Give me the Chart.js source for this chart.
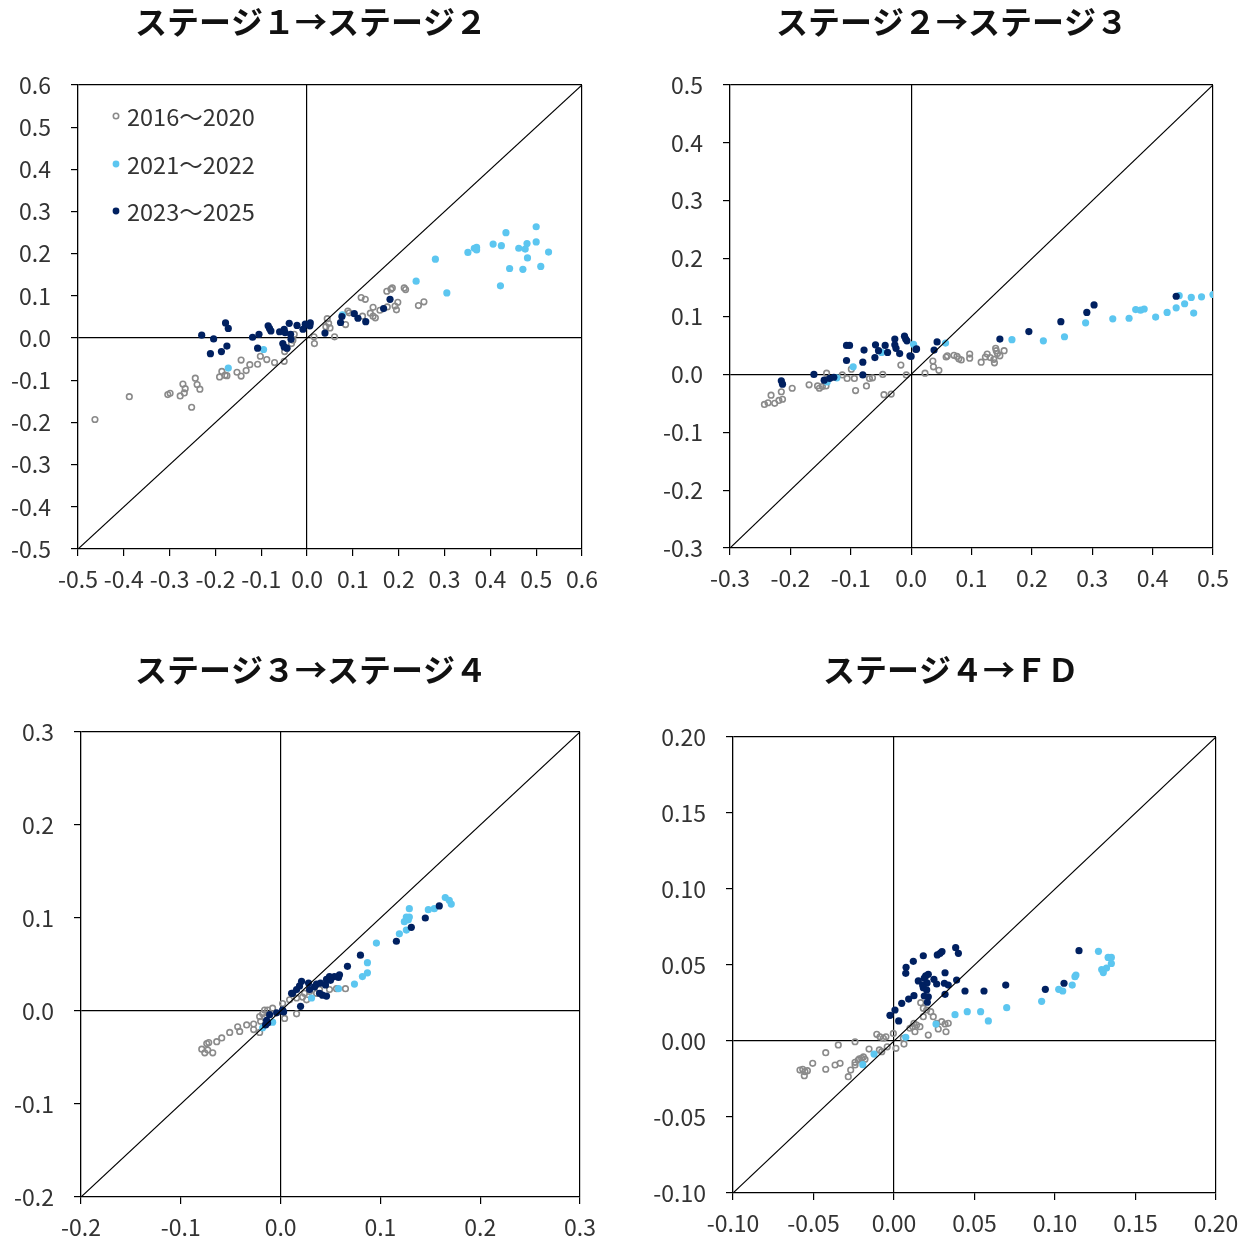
<!DOCTYPE html>
<html><head><meta charset="utf-8">
<script src="https://cdn.jsdelivr.net/npm/chart.js@4.4.1/dist/chart.umd.min.js"></script>
<style>
html,body{margin:0;padding:0;background:#fff;}
body{width:1251px;height:1240px;position:relative;overflow:hidden;}
canvas{position:absolute;}
</style></head><body>
<canvas id="c1" width="625" height="620" style="left:0px;top:0px"></canvas>
<canvas id="c2" width="598" height="620" style="left:653px;top:0px"></canvas>
<canvas id="c3" width="625" height="620" style="left:0px;top:620px"></canvas>
<canvas id="c4" width="600" height="620" style="left:651px;top:620px"></canvas>
<script>
// ---------- DATA ----------
const chartTitles = ['ステージ１→ステージ２', 'ステージ２→ステージ３', 'ステージ３→ステージ４', 'ステージ４→ＦＤ'];
const seriesLabels = ['2016～2020', '2021～2022', '2023～2025'];
// axis [min, max, step, decimals]
const axis1 = [-0.5, 0.6, 0.1, 1];
const axis2 = [-0.3, 0.5, 0.1, 1];
const axis3 = [-0.2, 0.3, 0.1, 1];
const axis4 = [-0.10, 0.20, 0.05, 2];

// Chart 1: ステージ1→ステージ2
const c1Gray = [[-0.463,-0.193],[-0.388,-0.139],[-0.304,-0.134],[-0.299,-0.131],[-0.277,-0.137],[-0.271,-0.109],[-0.266,-0.120],[-0.268,-0.130],[-0.252,-0.164],[-0.244,-0.095],[-0.240,-0.110],[-0.234,-0.121],[-0.191,-0.092],[-0.186,-0.079],[-0.179,-0.088],[-0.175,-0.089],[-0.153,-0.081],[-0.144,-0.090],[-0.144,-0.052],[-0.133,-0.077],[-0.125,-0.063],[-0.108,-0.062],[-0.102,-0.043],[-0.088,-0.051],[-0.071,-0.058],[-0.050,-0.055],[-0.049,-0.032],[-0.044,-0.024],[-0.034,-0.013],[-0.031,-0.005],[-0.028,0.009],[0.015,0.003],[0.016,-0.013],[0.044,0.046],[0.047,0.035],[0.041,0.027],[0.050,0.024],[0.060,0.003],[0.084,0.032],[0.089,0.064],[0.092,0.060],[0.118,0.096],[0.127,0.092],[0.121,0.052],[0.138,0.059],[0.144,0.052],[0.149,0.048],[0.144,0.073],[0.159,0.066],[0.174,0.111],[0.183,0.116],[0.186,0.119],[0.175,0.074],[0.192,0.076],[0.198,0.085],[0.195,0.067],[0.212,0.119],[0.215,0.115],[0.243,0.077],[0.255,0.086]];
const c1Light = [[0.500,0.264],[0.434,0.250],[0.406,0.223],[0.424,0.219],[0.365,0.213],[0.370,0.215],[0.370,0.209],[0.351,0.203],[0.462,0.213],[0.480,0.224],[0.476,0.211],[0.500,0.228],[0.527,0.204],[0.481,0.190],[0.442,0.165],[0.471,0.163],[0.510,0.170],[0.422,0.124],[0.280,0.187],[0.238,0.135],[0.305,0.107],[0.077,0.055],[-0.095,-0.027],[-0.172,-0.071]];
const c1Navy = [[0.181,0.092],[0.167,0.070],[0.103,0.058],[0.111,0.047],[0.128,0.039],[0.076,0.051],[0.073,0.037],[0.039,0.012],[0.007,0.036],[-0.004,0.033],[0.006,0.029],[-0.009,0.021],[-0.022,0.030],[-0.039,0.035],[-0.036,0.009],[-0.035,-0.003],[-0.050,0.021],[-0.060,0.015],[-0.048,0.013],[-0.053,-0.013],[-0.050,-0.021],[-0.044,-0.024],[-0.085,0.029],[-0.082,0.023],[-0.079,0.017],[-0.105,0.009],[-0.119,0.002],[-0.108,-0.024],[-0.178,0.036],[-0.172,0.023],[-0.204,-0.002],[-0.230,0.007],[-0.211,-0.037],[-0.187,-0.032],[-0.175,-0.019]];

// Chart 2: ステージ2→ステージ3
const c2Gray = [[-0.243,-0.052],[-0.237,-0.049],[-0.226,-0.050],[-0.219,-0.045],[-0.213,-0.043],[-0.232,-0.036],[-0.215,-0.030],[-0.197,-0.024],[-0.169,-0.018],[-0.155,-0.020],[-0.152,-0.024],[-0.147,-0.021],[-0.141,-0.020],[-0.140,0.002],[-0.099,0.009],[-0.106,-0.007],[-0.094,-0.007],[-0.114,-0.001],[-0.092,-0.028],[-0.074,-0.020],[-0.069,-0.007],[-0.064,-0.006],[-0.047,0.000],[-0.045,-0.035],[-0.033,-0.034],[-0.017,0.016],[-0.008,-0.001],[0.023,0.002],[0.036,0.023],[0.037,0.013],[0.046,0.007],[0.058,0.030],[0.060,0.032],[0.071,0.033],[0.076,0.031],[0.079,0.027],[0.083,0.025],[0.097,0.035],[0.097,0.028],[0.116,0.021],[0.123,0.030],[0.126,0.035],[0.131,0.029],[0.137,0.026],[0.138,0.020],[0.140,0.045],[0.141,0.041],[0.143,0.036],[0.147,0.032],[0.154,0.041]];
const c2Light = [[0.500,0.138],[0.481,0.134],[0.464,0.133],[0.444,0.136],[0.453,0.122],[0.439,0.115],[0.468,0.106],[0.424,0.107],[0.405,0.099],[0.372,0.112],[0.380,0.111],[0.386,0.113],[0.361,0.097],[0.334,0.096],[0.289,0.089],[0.254,0.065],[0.219,0.058],[0.167,0.060],[0.057,0.054],[0.004,0.052],[-0.049,0.038],[-0.096,0.013],[-0.139,-0.013],[-0.123,-0.006]];
const c2Navy = [[0.439,0.135],[0.303,0.120],[0.291,0.107],[0.248,0.091],[0.195,0.074],[0.147,0.061],[0.043,0.056],[0.038,0.042],[0.009,0.044],[0.000,0.031],[-0.011,0.066],[-0.009,0.061],[-0.007,0.058],[-0.027,0.061],[-0.027,0.051],[-0.025,0.045],[-0.019,0.036],[-0.002,0.032],[0.008,0.043],[-0.043,0.050],[-0.039,0.038],[-0.059,0.051],[-0.054,0.041],[-0.060,0.029],[-0.078,0.042],[-0.080,0.021],[-0.080,-0.001],[-0.107,0.050],[-0.102,0.050],[-0.107,0.024],[-0.161,0.000],[-0.144,-0.010],[-0.135,-0.007],[-0.128,-0.005],[-0.215,-0.011],[-0.213,-0.017]];

// Chart 3: ステージ3→ステージ4
const c3Gray = [[-0.079,-0.041],[-0.076,-0.045],[-0.073,-0.042],[-0.068,-0.045],[-0.074,-0.035],[-0.072,-0.034],[-0.064,-0.033],[-0.059,-0.029],[-0.051,-0.023],[-0.043,-0.017],[-0.041,-0.022],[-0.034,-0.015],[-0.027,-0.014],[-0.027,-0.020],[-0.021,-0.023],[-0.021,-0.006],[-0.018,-0.003],[-0.016,0.001],[-0.013,0.001],[-0.008,0.003],[0.004,-0.008],[0.016,-0.003],[0.002,0.008],[0.009,0.012],[0.016,0.014],[0.022,0.015],[0.026,0.012],[0.024,0.019],[0.029,0.021],[0.036,0.019],[0.039,0.023],[0.049,0.023],[0.056,0.024],[0.065,0.024],[-0.020,-0.011],[-0.016,-0.007]];
const c3Light = [[0.165,0.122],[0.169,0.119],[0.171,0.115],[0.148,0.109],[0.154,0.110],[0.129,0.110],[0.126,0.101],[0.129,0.101],[0.124,0.096],[0.128,0.098],[0.126,0.087],[0.119,0.083],[0.096,0.073],[0.087,0.052],[0.087,0.041],[0.082,0.037],[0.074,0.029],[0.058,0.024],[0.031,0.014],[-0.008,-0.012],[-0.018,-0.018]];
const c3Navy = [[0.159,0.113],[0.145,0.100],[0.131,0.090],[0.116,0.075],[0.080,0.060],[0.067,0.048],[0.059,0.039],[0.058,0.036],[0.054,0.037],[0.049,0.037],[0.046,0.034],[0.050,0.033],[0.036,0.029],[0.034,0.026],[0.029,0.023],[0.021,0.032],[0.019,0.027],[0.016,0.023],[0.011,0.019],[0.039,0.019],[0.042,0.017],[0.046,0.016],[0.020,0.005],[0.002,0.001],[-0.004,-0.002],[-0.011,-0.004],[-0.014,-0.010],[-0.013,-0.013],[-0.015,-0.015],[0.003,-0.001],[0.012,0.019],[0.028,0.030],[0.040,0.030],[0.045,0.028]];

// Chart 4: ステージ4→FD
const c4Gray = [[-0.0584,-0.0191],[-0.0567,-0.0186],[-0.0553,-0.0202],[-0.0538,-0.0195],[-0.0557,-0.0228],[-0.0505,-0.0147],[-0.0424,-0.0077],[-0.0424,-0.0186],[-0.0366,-0.0158],[-0.0335,-0.0147],[-0.0346,-0.0026],[-0.0242,-0.0005],[-0.0284,-0.0235],[-0.0269,-0.0191],[-0.0242,-0.0158],[-0.0222,-0.0125],[-0.0201,-0.0114],[-0.0180,-0.0120],[-0.0242,-0.0140],[-0.0215,-0.0118],[-0.0190,-0.0105],[-0.0155,-0.0053],[-0.0107,0.0044],[-0.0087,0.0028],[-0.0076,-0.0070],[-0.0066,0.0018],[-0.0050,0.0028],[-0.0042,-0.0038],[-0.0091,-0.0059],[-0.0004,0.0050],[0.0012,-0.0048],[0.0062,-0.0020],[0.0058,0.0018],[0.0099,0.0084],[0.0116,0.0094],[0.0130,0.0061],[0.0141,0.0105],[0.0161,0.0094],[0.0124,0.0116],[0.0166,0.0252],[0.0182,0.0215],[0.0203,0.0204],[0.0228,0.0193],[0.0244,0.0160],[0.0182,0.0160],[0.0213,0.0039],[0.0275,0.0079],[0.0296,0.0127],[0.0317,0.0112],[0.0337,0.0116],[0.0323,0.0061],[0.0265,0.0116]];
const c4Light = [[0.1270,0.0590],[0.1330,0.0550],[0.1350,0.0550],[0.1350,0.0510],[0.1290,0.0470],[0.1300,0.0450],[0.1320,0.0480],[0.1130,0.0434],[0.1124,0.0423],[0.1107,0.0368],[0.1048,0.0329],[0.1023,0.0340],[0.0917,0.0261],[0.0700,0.0219],[0.0586,0.0132],[0.0538,0.0193],[0.0455,0.0193],[0.0379,0.0173],[0.0261,0.0112],[0.0073,0.0024],[-0.0124,-0.0086],[-0.0194,-0.0156]];
const c4Navy = [[0.0383,0.0614],[0.0400,0.0577],[0.0298,0.0588],[0.0286,0.0577],[0.0269,0.0566],[0.0182,0.0561],[0.0120,0.0524],[0.0075,0.0485],[0.0073,0.0445],[0.0317,0.0449],[0.0213,0.0439],[0.0197,0.0428],[0.0188,0.0413],[0.0151,0.0395],[0.0178,0.0368],[0.0205,0.0382],[0.0248,0.0406],[0.0265,0.0375],[0.0313,0.0380],[0.0337,0.0368],[0.0389,0.0401],[0.0441,0.0329],[0.0559,0.0329],[0.0694,0.0368],[0.0940,0.0340],[0.1056,0.0380],[0.1149,0.0594],[0.0182,0.0351],[0.0203,0.0336],[0.0188,0.0296],[0.0213,0.0291],[0.0207,0.0255],[0.0317,0.0307],[0.0124,0.0298],[0.0091,0.0276],[0.0048,0.0248],[0.0006,0.0204],[-0.0025,0.0169],[0.0029,0.0132]];

// ---------- STYLE / LAYOUT ----------
Chart.defaults.font.family = "'Noto Sans CJK JP', 'Noto Sans', sans-serif";
const GRAY = '#8a8a8a', LIGHT = '#5cc6f0', NAVY = '#002060';
const TXT = '#333333';

const layouts = [
  {id:'c1', padR:3, yW:78, rW:40, xH:71, tTop:2.8, tBot:43.8, legend:true},
  {id:'c2', padR:0, yW:77, rW:38, xH:72, tTop:2.8, tBot:43.8},
  {id:'c3', padR:3, yW:81, rW:42, xH:43, tTop:30.8, tBot:42.8},
  {id:'c4', padR:0, yW:82, rW:35, xH:47, tTop:30.8, tBot:47.8}
];
const allData = [
  [c1Gray, c1Light, c1Navy, axis1],
  [c2Gray, c2Light, c2Navy, axis2],
  [c3Gray, c3Light, c3Navy, axis3],
  [c4Gray, c4Light, c4Navy, axis4]
];

const toPts = arr => arr.map(p => ({x: p[0], y: p[1]}));

const insideLegend = {
  id: 'insideLegend',
  afterDraw(chart) {
    const ca = chart.chartArea, ctx = chart.ctx;
    ctx.save();
    ctx.font = "23.5px 'Noto Sans CJK JP', sans-serif";
    ctx.textBaseline = 'middle';
    ctx.textAlign = 'left';
    const rows = [31, 79, 126];
    const styles = [
      {fill: null, stroke: GRAY},
      {fill: LIGHT, stroke: null},
      {fill: NAVY, stroke: null}
    ];
    for (let i = 0; i < 3; i++) {
      const x = ca.left + 38, y = ca.top + rows[i];
      ctx.beginPath();
      if (styles[i].fill) {
        ctx.arc(x, y, 3.4, 0, Math.PI * 2);
        ctx.fillStyle = styles[i].fill; ctx.fill();
      } else {
        ctx.arc(x, y, 2.7, 0, Math.PI * 2);
        ctx.strokeStyle = styles[i].stroke; ctx.lineWidth = 1.6; ctx.stroke();
      }
      ctx.fillStyle = TXT;
      ctx.fillText(seriesLabels[i], x + 11, y + 1);
    }
    ctx.restore();
  }
};

function makeScale(ax, isX, lay) {
  const [mn, mx, st, dec] = ax;
  return {
    type: 'linear',
    position: isX ? 'bottom' : 'left',
    min: mn, max: mx,
    ticks: {
      stepSize: st,
      autoSkip: false,
      maxRotation: 0,
      padding: isX ? 9 : 20,
      color: TXT,
      font: {size: 23},
      callback: v => Number(v).toFixed(dec)
    },
    grid: {
      drawOnChartArea: true,
      drawTicks: true,
      tickLength: 7,
      tickColor: '#000',
      tickWidth: 1.2,
      lineWidth: 1.2,
      color: ctx => {
        const v = ctx.tick ? ctx.tick.value : NaN;
        if (Math.abs(v) < 1e-9) return '#000';
        if (Math.abs(v - mx) < 1e-9) return '#000';
        return 'rgba(0,0,0,0)';
      }
    },
    border: {display: true, color: '#000', width: 1.3},
    afterFit: s => { if (isX) s.height = lay.xH; else s.width = lay.yW; }
  };
}

// invisible right-hand spacer axis (keeps the title centred like the original)
function spacerScale(ax, lay) {
  return {
    type: 'linear', position: 'right', display: true,
    min: ax[0], max: ax[1],
    ticks: {display: false},
    grid: {display: false, drawTicks: false},
    border: {display: false},
    afterFit: s => { s.width = lay.rW; }
  };
}

layouts.forEach((lay, i) => {
  const [g, l, n, ax] = allData[i];
  const diag = [{x: ax[0], y: ax[0]}, {x: ax[1], y: ax[1]}];
  new Chart(document.getElementById(lay.id), {
    type: 'scatter',
    data: {
      datasets: [
        {type: 'line', label: 'diag', data: diag, borderColor: '#000', borderWidth: 1.2, pointRadius: 0, fill: false, order: 0},
        {label: seriesLabels[0], data: toPts(g), pointRadius: 2.8, pointBorderWidth: 1.6, borderColor: GRAY, backgroundColor: 'rgba(255,255,255,0)', order: 3},
        {label: seriesLabels[1], data: toPts(l), pointRadius: 3.6, pointBorderWidth: 0, borderColor: LIGHT, backgroundColor: LIGHT, order: 2},
        {label: seriesLabels[2], data: toPts(n), pointRadius: 3.6, pointBorderWidth: 0, borderColor: NAVY, backgroundColor: NAVY, order: 1}
      ]
    },
    options: {
      responsive: false,
      animation: false,
      devicePixelRatio: 1,
      layout: {padding: {left: 0, right: lay.padR, top: 0, bottom: 0}},
      plugins: {
        legend: {display: false},
        tooltip: {enabled: false},
        title: {
          display: true,
          text: chartTitles[i],
          color: '#111',
          font: {size: 32, weight: 'bold'},
          padding: {top: lay.tTop, bottom: lay.tBot}
        }
      },
      scales: {
        x: makeScale(ax, true, lay),
        y: makeScale(ax, false, lay),
        yR: spacerScale(ax, lay)
      }
    },
    plugins: lay.legend ? [insideLegend] : []
  });
});
</script>
</body></html>
